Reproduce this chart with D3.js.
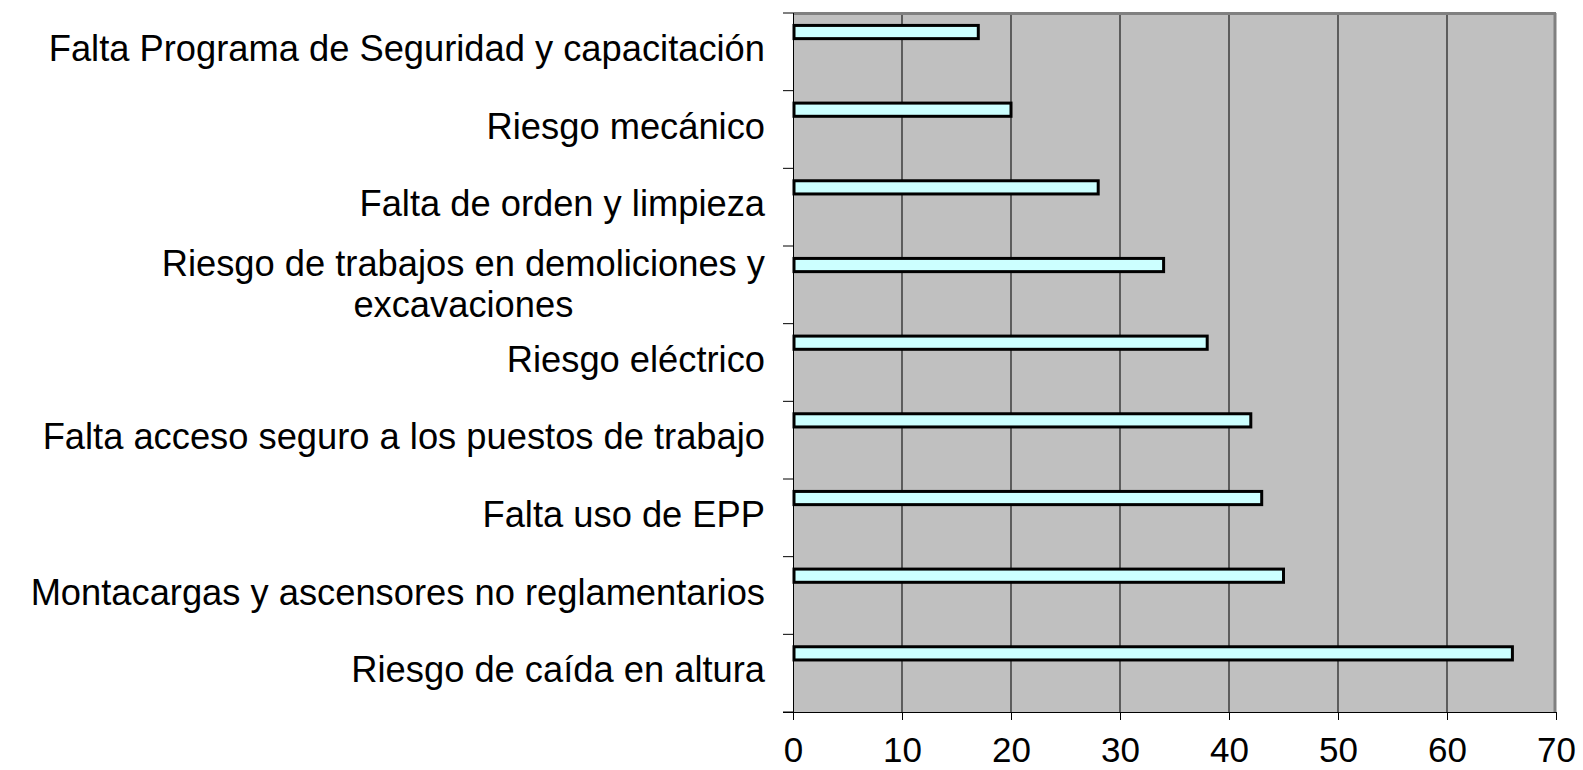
<html>
<script src="https://d3js.org/d3.v7.min.js"></script>
<style>
body {margin: 0; background: #fff;}
text {font-family: "Liberation Sans", Arial, sans-serif; fill: #000;}
</style>
<body>
<svg id="chart" width="1583" height="770"></svg>
<script>
// categories top to bottom, as shown
const categories = [
  "Falta Programa de Seguridad y capacitación",
  "Riesgo mecánico",
  "Falta de orden y limpieza",
  "Riesgo de trabajos en demoliciones y excavaciones",
  "Riesgo eléctrico",
  "Falta acceso seguro a los puestos de trabajo",
  "Falta uso de EPP",
  "Montacargas y ascensores no reglamentarios",
  "Riesgo de caída en altura"
];
const values = [17, 20, 28, 34, 38, 42, 43, 45, 66];
const xTicks = [0, 10, 20, 30, 40, 50, 60, 70];

var margin = {top: 13, right: 27, bottom: 58, left: 793},
    width = 1583 - margin.left - margin.right,
    height = 770 - margin.top - margin.bottom;

const svg = d3.select("#chart");
const g = svg.append("g").attr("transform", "translate(" + margin.left + "," + margin.top + ")");

var x = d3.scaleLinear().domain([0, 70]).range([0, width]);
var y = d3.scaleBand().domain(categories).range([0, height]).padding(0);

// plot area
g.append("rect")
  .attr("width", width).attr("height", height)
  .style("fill", "#c0c0c0");

// vertical gridlines
g.selectAll(".grid")
  .data(xTicks.filter(function(d) { return d > 0 && d < 70; }))
  .enter().append("line")
  .attr("x1", function(d) { return x(d); })
  .attr("x2", function(d) { return x(d); })
  .attr("y1", 0).attr("y2", height)
  .style("stroke", "#1a1a1a").style("stroke-width", 1.2);

// gray frame top and right
g.append("line").attr("x1", 0).attr("x2", width).attr("y1", 0.5).attr("y2", 0.5)
  .style("stroke", "#808080").style("stroke-width", 3);
g.append("line").attr("x1", width - 1).attr("x2", width - 1).attr("y1", 0).attr("y2", height)
  .style("stroke", "#808080").style("stroke-width", 3);

// bars
g.selectAll(".bar")
  .data(categories)
  .enter().append("rect")
  .attr("x", x(0) + 1)
  .attr("y", function(d) { return y(d) + y.step() * 0.16; })
  .attr("width", function(d, i) { return x(values[i]) - x(0) - 1; })
  .attr("height", y.step() * 0.17)
  .style("fill", "#ccffff")
  .style("stroke", "#000")
  .style("stroke-width", 3);

// x axis
var xAxis = d3.axisBottom(x).tickValues(xTicks).tickSize(8).tickPadding(17);
var xa = g.append("g").attr("transform", "translate(0," + height + ")").call(xAxis);
xa.select(".domain").style("stroke", "#000").attr("d", "M-10,0.5H" + width);
xa.selectAll(".tick line").style("stroke", "#000");
xa.selectAll("text").style("font-size", "35px").style("font-family", "'Liberation Sans', Arial, sans-serif");

// y axis line and boundary ticks
g.append("line").attr("x1", 0.5).attr("x2", 0.5).attr("y1", 0).attr("y2", height)
  .style("stroke", "#000");
var bounds = categories.map(function(c) { return y(c); }).concat([height]);
g.selectAll(".ytick")
  .data(bounds)
  .enter().append("line")
  .attr("x1", -10).attr("x2", 0)
  .attr("y1", function(d) { return d; }).attr("y2", function(d) { return d; })
  .style("stroke", "#000");

// category labels, wrapped and centered as a block, right-aligned to the axis
var labelRight = -28, maxW = 760, lineH = 41;
categories.forEach(function(c) {
  var t = g.append("text").style("font-size", "36.3px");
  var words = c.split(" "), lines = [], cur = "";
  words.forEach(function(w) {
    var test = cur ? cur + " " + w : w;
    t.text(test);
    if (t.node().getComputedTextLength() > maxW && cur) { lines.push(cur); cur = w; }
    else cur = test;
  });
  lines.push(cur);
  var widths = lines.map(function(l) { t.text(l); return t.node().getComputedTextLength(); });
  var blockW = d3.max(widths);
  t.text(null).attr("text-anchor", lines.length > 1 ? "middle" : "end");
  var cy = y(c) + y.step() / 2;
  lines.forEach(function(l, i) {
    t.append("tspan")
      .attr("x", lines.length > 1 ? labelRight - blockW / 2 : labelRight)
      .attr("y", cy + 9 + (i - (lines.length - 1) / 2) * lineH + (lines.length > 1 ? 3 : 0))
      .text(l);
  });
});
</script>
</body>
</html>
